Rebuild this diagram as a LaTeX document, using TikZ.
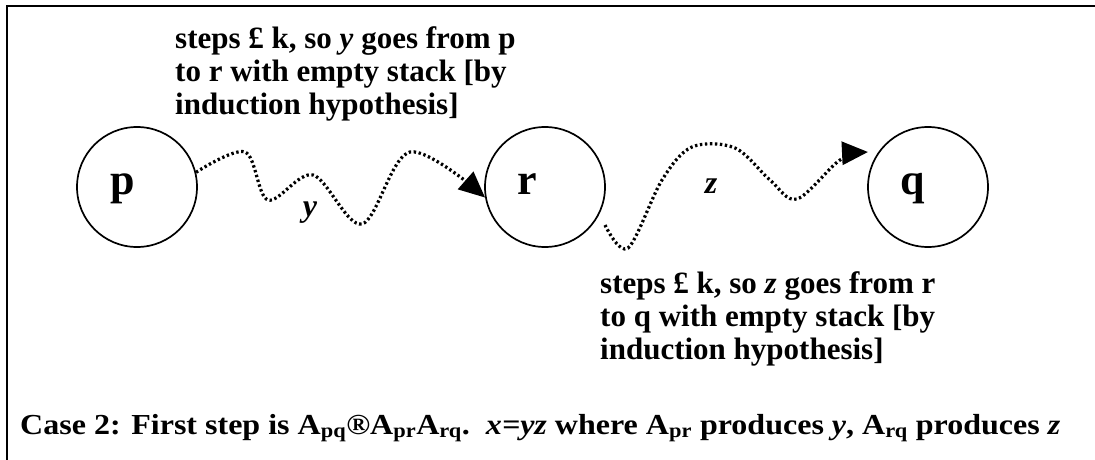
\documentclass[tikz,border=0pt]{standalone}
\usepackage{fontspec}
\usepackage{graphicx}
\setmainfont{Liberation Serif}
\usetikzlibrary{arrows.meta}
\begin{document}
\begin{tikzpicture}[x=1pt,y=-1pt,
  state/.style={circle,draw,line width=1.7pt,minimum size=120pt,inner sep=0pt},
  letter/.style={font=\fontsize{44}{44}\selectfont\bfseries,inner sep=0pt,anchor=base},
  elabel/.style={font=\fontsize{32}{32}\selectfont\bfseries\itshape,inner sep=0pt,anchor=base},
  squig/.style={line width=3.2pt,dash pattern=on 2.4pt off 2.6pt,line cap=butt,
    -{Triangle[length=26pt,width=23pt]}},
  lbl/.style={font=\fontsize{31}{33}\selectfont\bfseries,align=left,inner sep=0pt,anchor=north west}]
\useasboundingbox (0,0) rectangle (1095,460);
\draw[line width=2pt] (7,470) -- (7,6) -- (1105,6);
% states
\node[state] (p) at (137,187) {};
\node[state] (r) at (545,187) {};
\node[state] (q) at (928,187) {};
\node[letter] (pl) at (123,194) {p};
\node[letter] (rl) at (527,194) {r};
\node[letter] (ql) at (913,194) {q};
% connectors
\coordinate (zs) at (605,225);
\coordinate (ze) at (868,152);
\draw[squig] plot[smooth,tension=0.55] coordinates
  {(p.14) (245,152) (268,200) (313,175) (362,224) (410,152) (r.190)};
\draw[squig] plot[smooth,tension=0.55] coordinates
  {(zs) (628,248) (662,180) (692,147) (735,148) (770,180) (797,199) (840,160) (ze)};
\node[elabel] (yl) at (310,216) {y};
\node[elabel] (zl) at (711,193) {z};
% texts
\node[lbl] (t1) at (175,26) {steps £ k, so \textit{y} goes from p\\to r with empty stack [by\\induction hypothesis]};
\node[lbl] (t2) at (600,271) {steps £ k, so \textit{z} goes from r\\to q with empty stack [by\\induction hypothesis]};
\node[inner sep=0pt,anchor=base west,font=\fontsize{29}{29}\selectfont\bfseries] (cap) at (20,434)
  {\resizebox{1040pt}{\height}{Case 2: First step is A\textsubscript{pq}®A\textsubscript{pr}A\textsubscript{rq}.\ \ \textit{x=yz} where A\textsubscript{pr} produces \textit{y}, A\textsubscript{rq} produces \textit{z}}};
\end{tikzpicture}
\end{document}
